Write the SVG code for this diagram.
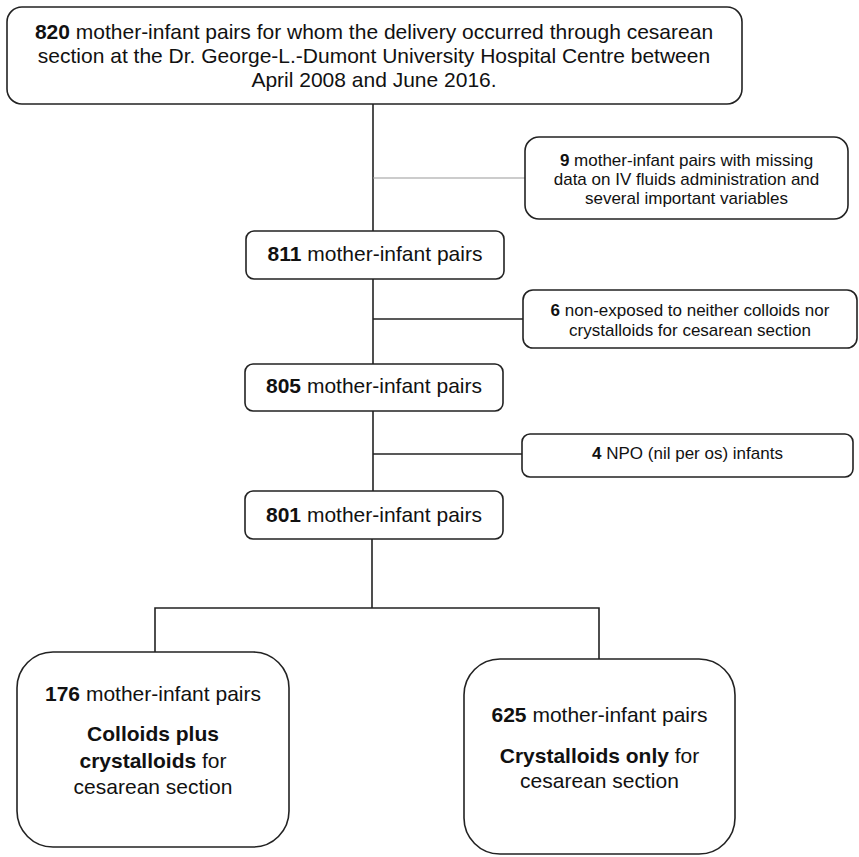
<svg xmlns="http://www.w3.org/2000/svg" width="859" height="857" viewBox="0 0 859 857">
<style>
.box{fill:#fff;stroke:#222;stroke-width:1.6}
.ln{stroke:#222;stroke-width:1.6;fill:none}
.gl{stroke:#999;stroke-width:1;fill:none}
text{font-family:"Liberation Sans",Arial,sans-serif;fill:#111;text-anchor:middle}
.t21{font-size:21px}
.t17{font-size:17px}
.b{font-weight:bold}
</style>
<rect width="859" height="857" fill="#fff"/>
<g id="connectors">
<line class="ln" x1="373" y1="104" x2="373" y2="231"/>
<line class="gl" x1="373" y1="178" x2="525" y2="178"/>
<line class="ln" x1="373" y1="279" x2="373" y2="364"/>
<line class="ln" x1="373" y1="319" x2="523" y2="319"/>
<line class="ln" x1="373" y1="411" x2="373" y2="491"/>
<line class="ln" x1="373" y1="454" x2="522" y2="454"/>
<line class="ln" x1="372" y1="539" x2="372" y2="608"/>
<polyline class="ln" points="155,652 155,608 599,608 599,659"/>
</g>
<g id="n820">
<rect class="box" x="7" y="7" width="735" height="97" rx="15"/>
<text class="t21" x="374" y="39"><tspan class="b">820</tspan> mother-infant pairs for whom the delivery occurred through cesarean</text>
<text class="t21" x="374" y="63">section at the Dr. George-L.-Dumont University Hospital Centre between</text>
<text class="t21" x="374" y="87">April 2008 and June 2016.</text>
</g>
<g id="excl9">
<rect class="box" x="525" y="137" width="323" height="82" rx="14"/>
<text class="t17" x="686.5" y="166"><tspan class="b">9</tspan> mother-infant pairs with missing</text>
<text class="t17" x="686.5" y="185">data on IV fluids administration and</text>
<text class="t17" x="686.5" y="204">several important variables</text>
</g>
<g id="n811">
<rect class="box" x="246" y="231" width="258" height="48" rx="8"/>
<text class="t21" x="375" y="261"><tspan class="b">811</tspan> mother-infant pairs</text>
</g>
<g id="excl6">
<rect class="box" x="523" y="290" width="334" height="58" rx="10"/>
<text class="t17" x="690" y="316"><tspan class="b">6</tspan> non-exposed to neither colloids nor</text>
<text class="t17" x="690" y="336">crystalloids for cesarean section</text>
</g>
<g id="n805">
<rect class="box" x="245" y="364" width="258" height="47" rx="8"/>
<text class="t21" x="374" y="393"><tspan class="b">805</tspan> mother-infant pairs</text>
</g>
<g id="excl4">
<rect class="box" x="522" y="434" width="331" height="43" rx="8"/>
<text class="t17" x="687.5" y="459"><tspan class="b">4</tspan> NPO (nil per os) infants</text>
</g>
<g id="n801">
<rect class="box" x="245" y="491" width="258" height="48" rx="8"/>
<text class="t21" x="374" y="522"><tspan class="b">801</tspan> mother-infant pairs</text>
</g>
<g id="n176">
<rect class="box" x="17" y="652" width="272" height="195" rx="36"/>
<text class="t21" x="153" y="701"><tspan class="b">176</tspan> mother-infant pairs</text>
<text class="t21 b" x="153" y="741">Colloids plus</text>
<text class="t21" x="153" y="768"><tspan class="b">crystalloids</tspan> for</text>
<text class="t21" x="153" y="794">cesarean section</text>
</g>
<g id="n625">
<rect class="box" x="464" y="659" width="271" height="195" rx="36"/>
<text class="t21" x="599.5" y="722"><tspan class="b">625</tspan> mother-infant pairs</text>
<text class="t21" x="599.5" y="763"><tspan class="b">Crystalloids only</tspan> for</text>
<text class="t21" x="599.5" y="788">cesarean section</text>
</g>
</svg>
